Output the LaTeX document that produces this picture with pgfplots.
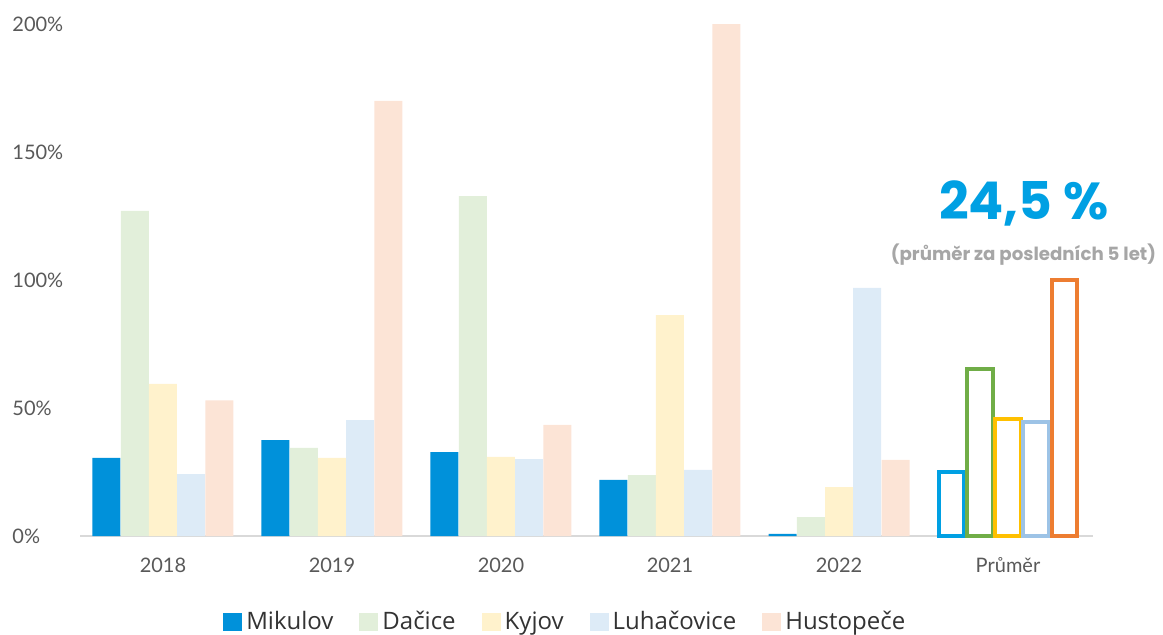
\documentclass[border=0pt]{standalone}
\usepackage{fontspec}
\setmainfont{Lato}
\newfontfamily\pop{Poppins}
\newfontfamily\osans{Open Sans}
\usepackage{pgfplots}
\pgfplotsset{compat=1.18}
\definecolor{cMik}{RGB}{0,145,218}
\definecolor{cDac}{RGB}{226,239,218}
\definecolor{cKyj}{RGB}{255,242,204}
\definecolor{cLuh}{RGB}{221,235,247}
\definecolor{cHus}{RGB}{252,228,214}
\definecolor{oMik}{RGB}{0,160,227}
\definecolor{oDac}{RGB}{112,173,71}
\definecolor{oKyj}{RGB}{255,192,0}
\definecolor{oLuh}{RGB}{157,195,230}
\definecolor{oHus}{RGB}{237,125,49}
\definecolor{tickGray}{RGB}{89,89,89}
\definecolor{lineGray}{RGB}{217,217,217}
\definecolor{subGray}{RGB}{166,166,166}
\begin{document}
\begin{tikzpicture}
\useasboundingbox (0,0) rectangle (581.5pt,317pt);
\begin{axis}[
  at={(40pt,49pt)}, anchor=south west,
  scale only axis, width=506.5pt, height=256pt,
  xmin=-0.491, xmax=5.503, ymin=0, ymax=200,
  clip=false,
  ybar=0pt, bar width=14pt,
  axis lines=left,
  axis line style={-},
  y axis line style={draw=none},
  x axis line style={draw=lineGray, line width=1pt},
  major tick length=0pt,
  xtick={0,1,2,3,4,5},
  xticklabels={2018,2019,2020,2021,2022,Průměr},
  ytick={0,50,100,150,200},
  yticklabel={\pgfmathprintnumber{\tick}\%},
  /pgf/number format/assume math mode=true,
  ticklabel style={font=\fontsize{10pt}{12pt}\selectfont, text=tickGray},
  xticklabel style={anchor=center, yshift=-14.5pt},
  yticklabel style={anchor=west, inner sep=0pt, xshift=-34pt},
  legend columns=5,
  legend cell align=left,
  legend style={draw=none, fill=none, at={(0.48,-0.168)}, anchor=center,
    font=\osans\fontsize{12pt}{14pt}\selectfont, text=black!80,
    /tikz/every even column/.append style={column sep=11pt},
    inner sep=0pt},
  legend image code/.code={\fill[#1] (0pt,-4.7pt) rectangle (9.5pt,4.7pt);},
]
\addplot[fill=cMik, draw=none, bar shift=-28.25pt] coordinates {(0,30.5)(1,37.5)(2,32.8)(3,21.9)(4,0.8)};
\addplot[fill=cDac, draw=none, bar shift=-14.1pt] coordinates {(0,127)(1,34.4)(2,132.8)(3,23.8)(4,7.4)};
\addplot[fill=cKyj, draw=none, bar shift=0pt] coordinates {(0,59.4)(1,30.5)(2,30.9)(3,86.3)(4,19.1)};
\addplot[fill=cLuh, draw=none, bar shift=14.1pt] coordinates {(0,24.2)(1,45.3)(2,30)(3,25.8)(4,96.9)};
\addplot[fill=cHus, draw=none, bar shift=28.25pt] coordinates {(0,53)(1,170)(2,43.4)(3,200)(4,29.7)};
\addplot[draw=oMik, fill=none, line width=2pt, bar width=12.8pt, bar shift=-28.25pt, forget plot] coordinates {(5,25)};
\addplot[draw=oDac, fill=none, line width=2pt, bar width=12.8pt, bar shift=-14.1pt, forget plot] coordinates {(5,65.2)};
\addplot[draw=oKyj, fill=none, line width=2pt, bar width=12.8pt, bar shift=0pt, forget plot] coordinates {(5,45.7)};
\addplot[draw=oLuh, fill=none, line width=2pt, bar width=12.8pt, bar shift=14.1pt, forget plot] coordinates {(5,44.5)};
\addplot[draw=oHus, fill=none, line width=2pt, bar width=12.8pt, bar shift=28.25pt, forget plot] coordinates {(5,100)};
\legend{Mikulov,Dačice,Kyjov,Luhačovice,Hustopeče}
\end{axis}
\node[text=oMik, font=\pop\bfseries\fontsize{26pt}{30pt}\selectfont, inner sep=0pt] at (512pt,215.5pt) {24,5 \%};
\node[text=subGray, font=\pop\bfseries\fontsize{9.1pt}{11pt}\selectfont, inner sep=0pt] at (511.75pt,189.5pt) {(průměr za posledních 5 let)};
\end{tikzpicture}
\end{document}
